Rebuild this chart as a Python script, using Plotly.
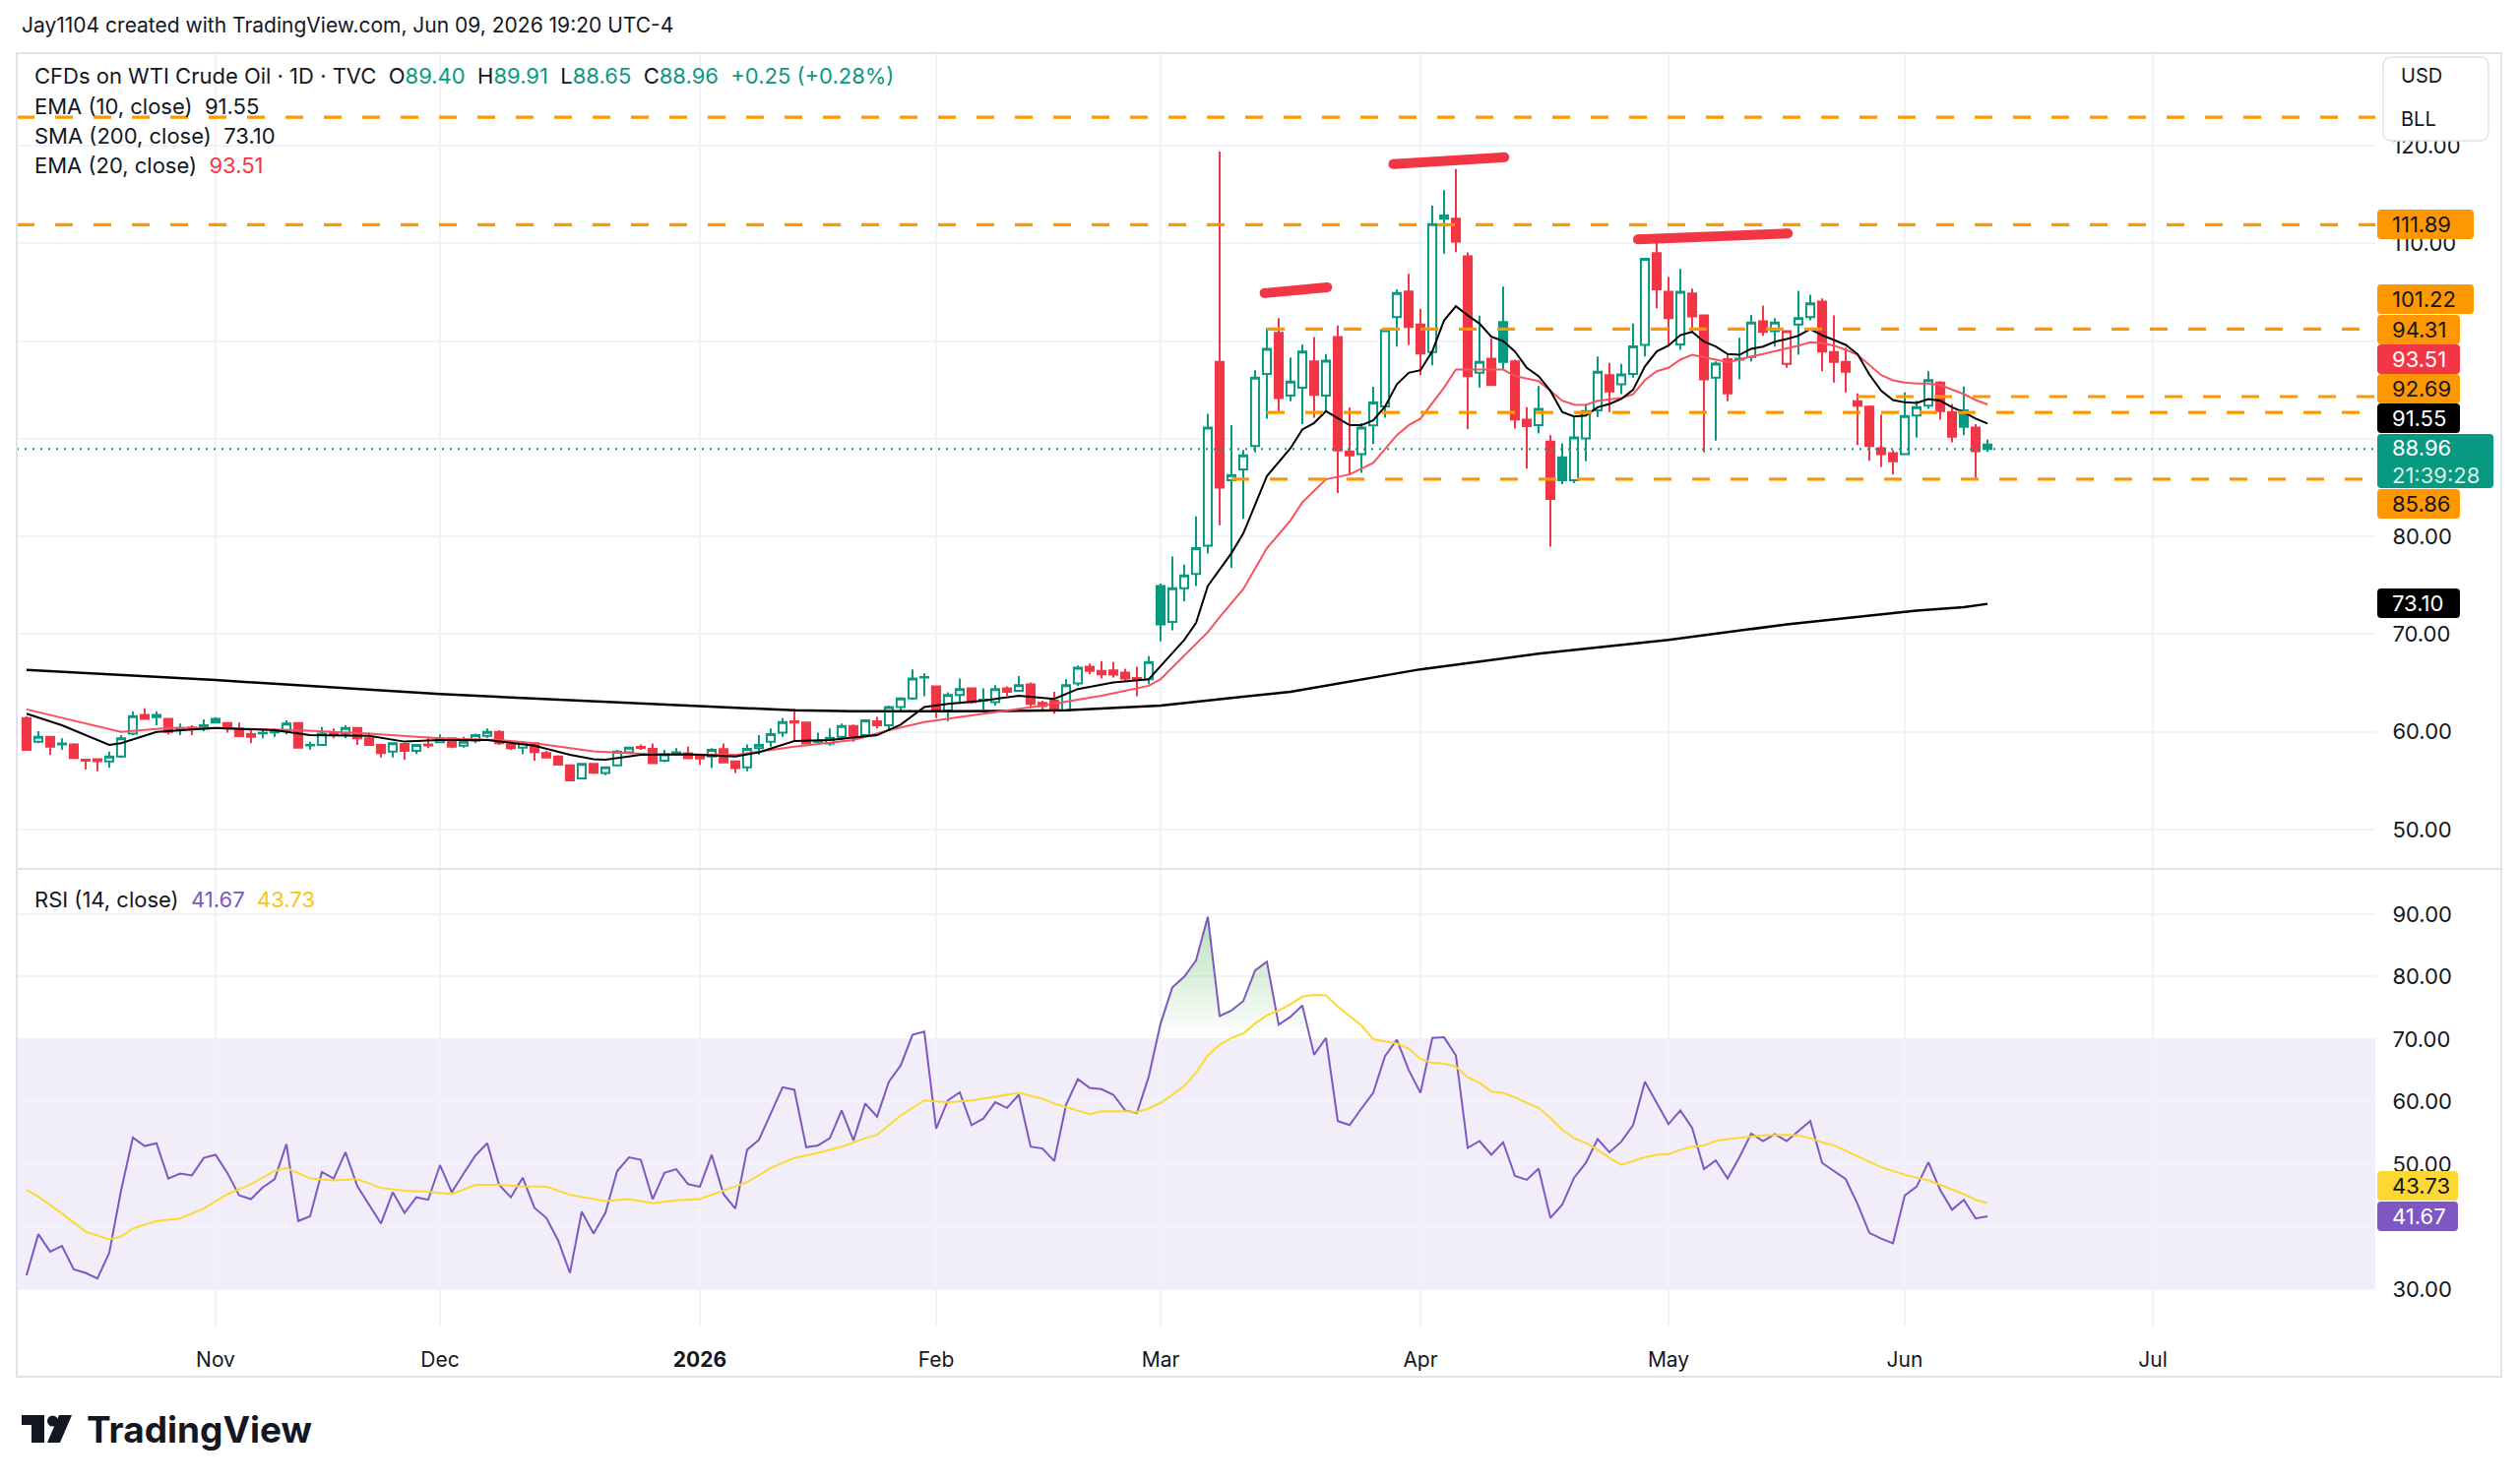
import plotly.graph_objects as go

W, H = 2560, 1507
GREEN = "#089981"
RED = "#F23645"
ORANGE = "#FF9800"
INK = "#131722"
PURPLE = "#7E57C2"
YELLOW = "#FDD835"
GRID = "#F0F3FA"
BORDER = "#E0E3EB"
FONT = "Inter, Noto Sans, sans-serif"

# one candle per trading day, Oct 10 2025 .. Jun 10 2026 (x = bar number)
opens = [61.40, 58.99, 59.50, 58.70, 58.72, 57.15, 57.20, 56.98, 57.48, 59.83,
         61.74, 61.74, 61.34, 60.30, 60.45, 60.34, 61.34, 60.91, 60.34, 59.78,
         59.85, 59.95, 60.17, 60.91, 58.60, 58.66, 59.86, 59.83, 60.40, 59.33,
         58.66, 57.99, 58.76, 58.05, 58.70, 58.93, 59.33, 58.59, 59.09, 59.60,
         60.00, 58.72, 58.39, 58.83, 57.82, 57.48, 56.58, 55.23, 56.71, 55.79,
         56.57, 57.91, 58.45, 58.25, 57.04, 57.85, 57.81, 57.50, 57.47, 58.22,
         56.97, 56.36, 58.32, 58.99, 59.93, 61.08, 60.94, 58.98, 58.82, 59.49,
         60.61, 59.66, 61.08, 60.67, 62.53, 63.43, 65.55, 64.65, 62.19, 63.77,
         64.44, 63.25, 63.03, 64.44, 64.21, 64.85, 62.96, 63.20, 62.19, 64.95,
         66.67, 66.23, 66.30, 66.06, 65.50, 65.39, 74.93, 71.24, 74.70, 76.17,
         79.06, 97.85, 85.74, 86.85, 89.26, 96.64, 100.84, 94.40, 95.23, 97.92,
         94.40, 100.40, 88.70, 88.42, 91.37, 93.30, 102.45, 105.07, 101.68, 98.86,
         112.85, 112.52, 108.66, 96.75, 98.20, 101.95, 97.92, 91.95, 91.38, 89.70,
         88.10, 85.74, 90.03, 92.89, 96.51, 95.57, 96.64, 99.60, 108.99, 105.03,
         99.66, 104.87, 102.62, 96.24, 98.15, 98.08, 98.36, 102.01, 101.01, 97.65,
         101.68, 102.45, 104.03, 98.86, 97.85, 93.83, 93.29, 89.03, 88.52, 88.42,
         92.38, 93.39, 95.74, 92.72, 92.89, 91.14, 89.40]
highs = [61.60, 60.07, 59.60, 59.33, 58.83, 57.20, 57.30, 57.99, 59.66, 62.08,
         62.42, 62.08, 61.40, 60.84, 60.67, 61.28, 61.50, 61.00, 60.94, 60.34,
         60.34, 60.34, 61.17, 61.00, 58.99, 60.50, 60.34, 60.67, 60.50, 59.93,
         58.72, 58.93, 58.83, 58.70, 59.50, 59.73, 59.40, 59.50, 59.83, 60.34,
         60.17, 58.83, 59.05, 58.93, 58.05, 57.60, 56.64, 56.81, 56.81, 56.46,
         58.15, 58.48, 58.72, 58.82, 58.15, 58.32, 58.48, 57.64, 58.32, 58.82,
         57.04, 58.72, 59.66, 60.34, 61.41, 62.36, 61.00, 59.93, 60.34, 60.84,
         60.74, 61.28, 61.52, 62.69, 63.54, 66.40, 65.99, 64.71, 64.04, 65.45,
         64.55, 64.44, 64.78, 64.65, 65.72, 65.05, 63.20, 64.11, 65.39, 66.80,
         67.00, 67.24, 67.14, 66.46, 66.67, 67.74, 75.17, 77.95, 77.11, 82.05,
         92.55, 119.40, 91.38, 88.86, 97.00, 101.30, 102.35, 98.32, 99.66, 100.40,
         98.66, 101.60, 93.20, 91.60, 95.33, 101.34, 105.30, 106.88, 103.30, 113.86,
         115.44, 117.60, 109.06, 102.60, 100.27, 105.57, 98.09, 93.22, 95.40, 90.37,
         89.53, 92.20, 93.56, 98.42, 97.75, 97.65, 101.78, 108.50, 110.91, 106.54,
         107.38, 105.37, 102.68, 97.92, 98.59, 100.34, 102.68, 103.62, 102.35, 101.10,
         105.13, 104.73, 104.36, 102.62, 99.33, 94.63, 93.40, 92.48, 88.86, 94.73,
         93.89, 96.91, 95.91, 93.56, 95.34, 91.48, 89.91]
lows = [58.10, 58.83, 57.65, 58.15, 57.25, 56.14, 55.97, 56.31, 57.32, 59.66,
        61.28, 60.67, 59.73, 59.66, 59.66, 60.07, 60.84, 59.93, 59.50, 58.83,
        59.33, 59.50, 59.73, 58.32, 58.15, 58.59, 59.33, 59.33, 58.66, 58.59,
        57.38, 57.38, 57.15, 57.72, 58.32, 58.83, 58.32, 58.39, 58.83, 59.40,
        58.66, 58.15, 57.72, 57.05, 57.32, 56.58, 54.97, 55.13, 55.70, 55.56,
        56.47, 57.81, 58.15, 56.70, 56.90, 57.60, 57.24, 56.63, 56.30, 56.80,
        55.79, 55.96, 57.64, 58.48, 59.49, 58.99, 58.72, 58.82, 58.59, 59.16,
        58.99, 59.60, 60.34, 60.17, 62.19, 63.30, 63.64, 61.41, 61.08, 62.86,
        62.86, 62.29, 62.69, 63.70, 64.11, 62.42, 62.09, 61.85, 62.09, 64.71,
        65.89, 65.45, 65.56, 65.22, 63.64, 64.88, 69.26, 70.40, 73.36, 74.93,
        78.26, 81.14, 76.78, 81.81, 88.60, 92.05, 92.82, 93.83, 91.48, 92.15,
        92.89, 84.43, 86.34, 86.50, 89.46, 92.15, 99.43, 99.60, 96.50, 97.50,
        108.93, 109.10, 91.00, 95.23, 95.40, 97.08, 91.04, 86.94, 90.54, 78.96,
        85.34, 85.44, 87.68, 92.21, 92.72, 94.56, 96.24, 98.42, 103.36, 99.43,
        99.10, 101.11, 88.59, 89.80, 93.83, 96.07, 97.92, 100.54, 99.43, 97.25,
        98.59, 102.11, 96.91, 95.74, 94.73, 89.36, 87.75, 87.11, 86.34, 88.36,
        90.10, 93.05, 91.95, 89.63, 90.37, 85.91, 88.65]
closes = [58.15, 59.50, 58.49, 58.80, 57.32, 57.05, 57.00, 57.48, 59.33, 61.61,
          61.34, 61.50, 60.00, 60.40, 60.30, 60.67, 60.94, 60.34, 59.56, 59.50,
          59.90, 60.00, 60.84, 58.39, 58.66, 59.83, 59.78, 60.40, 59.33, 58.66,
          57.82, 58.83, 58.05, 58.66, 58.60, 59.33, 58.49, 58.99, 59.66, 60.00,
          58.83, 58.32, 58.83, 57.92, 57.38, 56.64, 55.03, 56.71, 55.81, 56.36,
          57.98, 58.38, 58.35, 56.80, 57.71, 57.91, 57.31, 57.28, 58.15, 56.87,
          56.30, 58.25, 58.65, 59.76, 61.01, 60.95, 58.82, 59.06, 59.39, 60.61,
          59.49, 61.18, 60.67, 62.53, 63.43, 65.45, 65.62, 62.19, 63.77, 64.38,
          63.03, 63.30, 64.38, 64.11, 64.78, 62.86, 62.63, 62.19, 64.78, 66.57,
          66.23, 65.89, 65.85, 65.45, 65.40, 67.14, 71.00, 74.70, 76.00, 78.79,
          91.14, 85.00, 86.28, 88.30, 96.24, 99.20, 94.16, 95.84, 98.93, 94.50,
          97.99, 88.80, 88.30, 91.14, 93.70, 101.10, 104.90, 101.44, 98.72, 111.95,
          112.52, 110.17, 96.40, 97.85, 95.50, 97.85, 91.98, 91.28, 93.05, 83.83,
          85.74, 90.13, 92.82, 96.85, 94.83, 96.58, 99.46, 108.42, 105.30, 102.35,
          105.03, 102.52, 96.07, 97.68, 94.63, 98.20, 101.88, 100.94, 101.88, 101.01,
          102.35, 103.86, 98.93, 97.85, 96.85, 93.39, 89.26, 88.42, 87.68, 92.32,
          93.22, 96.00, 92.82, 90.20, 91.21, 88.71, 88.96]

month_ticks = [16, 35, 57, 77, 96, 118, 139, 159, 180]
month_labels = ["Nov", "Dec", "<b>2026</b>", "Feb", "Mar", "Apr", "May", "Jun", "Jul"]

# moving averages (bar number, value)
ema10_x = [0, 3, 7, 8, 11, 16, 21, 24, 29, 32, 35, 39, 43, 46, 48, 49, 52, 56, 60, 62,
           65, 68, 72, 74, 76, 78, 81, 84, 87, 89, 92, 95, 96, 98, 99, 100, 102, 103,
           105, 107, 108, 109, 110] + list(range(111, 167))
ema10_y = [61.85, 60.67, 58.66, 58.83, 60.0, 60.4, 60.17, 59.66, 59.6, 59.0, 59.16, 59.16,
           58.59, 57.65, 57.2, 57.14, 57.64, 57.71, 57.47, 57.91, 59.06, 59.16, 59.66, 60.74,
           62.53, 62.86, 63.2, 63.7, 63.37, 64.38, 65.05, 65.39, 66.73, 69.4, 71.14, 74.93,
           78.29, 80.3, 86.17, 89.03, 90.94, 91.61, 92.82,
           92.1, 91.38, 91.38, 91.88, 93.29, 95.57, 96.74, 97.01, 98.93, 102.11,
           103.56, 102.62, 101.78, 100.44, 100.0, 98.93, 97.25, 96.41, 94.9, 92.72,
           92.28, 92.38, 93.22, 93.56, 94.06, 95.0, 97.4, 98.93, 99.53, 100.6,
           100.94, 99.93, 99.43, 98.66, 98.59, 99.2, 99.43, 99.93, 100.2, 100.54,
           101.21, 100.6, 100.1, 99.6, 98.66, 96.58, 94.9, 93.96, 93.72, 93.66,
           94.06, 93.89, 93.22, 92.72, 92.05, 91.55]
ema20_x = [0, 8, 12, 16, 23, 29, 35, 40, 43, 46, 48, 53, 60, 65, 70, 73, 76, 81, 86, 91,
           95, 96, 100, 101, 103, 105, 107, 108, 110, 112, 114, 116, 117, 118, 120, 121,
           125, 126, 128, 130, 131, 132, 133, 135, 136, 137] + list(range(138, 167))
ema20_y = [62.3, 60.0, 60.4, 60.4, 60.17, 59.83, 59.33, 59.16, 58.83, 58.32, 58.0, 57.71,
           57.64, 58.48, 59.16, 60.17, 61.01, 61.85, 62.69, 63.7, 64.71, 65.39, 70.2, 71.74,
           74.6, 78.8, 81.64, 83.49, 85.84, 86.34, 87.52, 90.37, 91.38, 92.05, 95.23, 97.08,
           97.08, 96.41, 95.9, 93.89, 93.49, 93.46, 93.89, 94.16, 94.56, 96.0,
           96.91, 97.25, 98.09, 98.59, 98.32, 98.09, 97.85, 98.09, 98.42, 98.66,
           98.93, 99.2, 99.53, 99.87, 99.77, 99.53, 99.1, 98.59, 97.58, 96.51,
           95.97, 95.74, 95.64, 95.64, 95.5, 95.07, 94.56, 93.96, 93.51]
sma200_x = [0, 16, 35, 49, 57, 65, 70, 78, 88, 96, 107, 118, 128, 139, 149, 160, 164, 166]
sma200_y = [66.35, 65.3, 63.86, 63.1, 62.69, 62.2, 62.1, 62.1, 62.2, 62.7, 64.1, 66.4,
            68.0, 69.4, 71.0, 72.4, 72.75, 73.1]

# RSI(14), one value per bar
rsi = [32.2, 38.8, 36.0, 36.9, 33.15, 32.6, 31.7, 35.8, 45.75, 54.25,
       52.9, 53.35, 47.7, 48.5, 48.2, 51.0, 51.5, 48.6, 45.0, 44.4,
       46.3, 47.6, 53.2, 40.9, 41.65, 48.75, 47.7, 51.9, 46.5, 43.55,
       40.5, 45.5, 42.2, 44.7, 44.3, 49.85, 45.5, 48.5, 51.4, 53.35,
       46.7, 44.7, 47.85, 43.0, 41.4, 37.8, 32.6, 42.4, 38.9, 42.2,
       48.9, 51.1, 50.7, 44.4, 48.6, 49.2, 46.8, 46.4, 51.5, 45.2,
       42.9, 52.3, 53.9, 58.1, 62.3, 61.9, 52.7, 53.0, 54.15, 58.6,
       53.8, 59.7, 57.6, 63.2, 65.8, 70.7, 71.2, 55.7, 60.2, 61.5,
       56.25, 57.3, 59.9, 59.0, 61.1, 52.8, 52.5, 50.5, 59.5, 63.6,
       62.2, 62.0, 61.1, 58.6, 58.2, 64.0, 72.5, 78.3, 80.0, 82.6,
       89.6, 73.7, 74.6, 76.1, 81.0, 82.4, 72.3, 73.6, 75.4, 67.5,
       70.2, 56.9, 56.25, 58.9, 61.4, 67.3, 69.9, 65.1, 61.4, 70.2,
       70.3, 67.4, 52.6, 53.7, 51.5, 53.5, 48.1, 47.5, 49.3, 41.4,
       43.5, 47.8, 50.2, 54.0, 51.9, 53.6, 56.25, 63.2, 59.8, 56.4,
       58.6, 55.8, 49.2, 50.6, 47.7, 51.1, 54.9, 53.7, 54.8, 53.7,
       55.3, 56.9, 50.2, 48.9, 47.6, 43.65, 39.0, 38.1, 37.35, 45.0,
       46.4, 50.3, 45.85, 42.7, 44.3, 41.3, 41.67]
rsi_ma_x = [0, 1, 3, 5, 7, 8, 9, 11, 13, 15, 17, 19, 21, 22, 24, 26, 28, 30, 32, 34, 36,
            38, 40, 42, 44, 46, 49, 51, 53, 55, 57, 59, 61, 63, 65, 67, 69, 71, 72, 74,
            76, 78, 80, 82, 84, 86, 87, 90, 91, 93, 94, 95] + list(range(96, 167))
rsi_ma_y = [45.9, 44.8, 42.1, 39.2, 38.0, 38.4, 39.7, 40.9, 41.3, 42.9, 45.2, 46.8, 48.9,
            49.4, 47.7, 47.4, 47.6, 46.2, 45.75, 45.6, 45.2, 46.7, 46.7, 46.4, 46.4, 45.1,
            44.1, 44.4, 43.75, 44.2, 44.4, 45.75, 47.1, 49.4, 51.0, 51.8, 52.8, 54.15, 54.7,
            57.8, 60.2, 59.9, 60.2, 60.8, 61.4, 60.45, 59.7, 58.0, 58.45, 58.45, 58.35, 58.9,
            59.8, 61.1, 62.5, 64.65, 67.4, 69.1, 70.2, 70.9, 72.5, 73.8,
            74.6, 75.6, 76.8, 77.1, 77.0, 75.2, 73.7, 72.2, 70.0, 69.6,
            69.3, 68.5, 66.85, 66.2, 66.1, 65.6, 63.9, 63.0, 61.6, 61.4,
            60.7, 59.8, 59.0, 57.4, 55.5, 54.15, 53.4, 52.3, 51.0, 49.9,
            50.5, 51.1, 51.5, 51.6, 52.3, 52.8, 53.0, 53.7, 54.0, 54.15,
            54.4, 54.6, 54.7, 54.7, 54.6, 54.15, 53.5, 53.0, 52.15, 51.25,
            50.4, 49.5, 48.9, 48.3, 47.85, 47.4, 46.7, 46.0, 45.2, 44.3, 43.73]

# user drawings: horizontal rays (price, first bar; None = from the left edge)
ray_prices = [122.9, 111.89, 101.22, 94.31, 92.69, 85.86]
ray_starts = [None, None, 105, 155, 105, 102]
# red marker strokes over the highs (bar, price pairs)
mark_x = [[104.8, 110.1], [115.7, 125.1], [136.4, 149.1]]
mark_y = [[104.9, 105.5], [118.1, 118.8], [110.4, 111.0]]

# axis tick values; labels hidden under the stacked price tags stay blank
price_ticks = [50, 60, 70, 80, 90, 100, 110, 120]
price_ticktext = ["50.00", "60.00", "70.00", "80.00", "", "", "110.00", "120.00"]
rsi_ticks = [30, 40, 50, 60, 70, 80, 90]
rsi_ticktext = ["30.00", "", "50.00", "60.00", "70.00", "80.00", "90.00"]

# ---- screenshot geometry (pixels) ----
L, R = 17, 2413
P_TOP, P_BOT, R_BOT = 54, 883, 1349
X_RANGE = [-0.83, 198.83]
P_RANGE = [45.97, 129.46]
RSI_RANGE = [23.86, 97.24]


def fx(px):
    return px / W


def fy(py):
    return 1 - py / H


n = len(closes)
idx = list(range(n))
up = [i for i in idx if i > 0 and closes[i] >= closes[i - 1]]
dn = [i for i in idx if i not in up]

fig = go.Figure()


def candles(sel, col):
    return go.Candlestick(
        x=sel, open=[opens[i] for i in sel], high=[highs[i] for i in sel],
        low=[lows[i] for i in sel], close=[closes[i] for i in sel],
        increasing=dict(line=dict(color=col, width=2), fillcolor="white"),
        decreasing=dict(line=dict(color=col, width=2), fillcolor=col),
        whiskerwidth=0, hoverinfo="skip", xaxis="x", yaxis="y")


fig.add_trace(candles(up, GREEN))
fig.add_trace(candles(dn, RED))

fig.add_trace(go.Scatter(x=sma200_x, y=sma200_y, mode="lines", line=dict(color="black", width=2.5),
                         hoverinfo="skip"))
fig.add_trace(go.Scatter(x=ema20_x, y=ema20_y, mode="lines", line=dict(color="#F7525F", width=2),
                         hoverinfo="skip"))
fig.add_trace(go.Scatter(x=ema10_x, y=ema10_y, mode="lines", line=dict(color="black", width=2),
                         hoverinfo="skip"))

# last price dotted line
fig.add_trace(go.Scatter(x=[X_RANGE[0], X_RANGE[1]], y=[closes[-1]] * 2, mode="lines",
                         line=dict(color=GREEN, width=2, dash="2px,6px"), hoverinfo="skip"))

for p, s in zip(ray_prices, ray_starts):
    fig.add_trace(go.Scatter(x=[X_RANGE[0] if s is None else s, X_RANGE[1]], y=[p, p], mode="lines",
                             line=dict(color=ORANGE, width=3.2, dash="18px,21px"), hoverinfo="skip"))

for xs, ys in zip(mark_x, mark_y):
    fig.add_trace(go.Scatter(x=xs, y=ys, mode="lines+markers", line=dict(color=RED, width=10),
                             marker=dict(color=RED, size=10), hoverinfo="skip"))

# RSI pane
fig.add_trace(go.Scatter(x=idx, y=[70] * n, mode="lines", line=dict(width=0), xaxis="x2", yaxis="y2",
                         hoverinfo="skip"))
fig.add_trace(go.Scatter(x=idx, y=rsi, mode="lines", line=dict(color=PURPLE, width=2),
                         fill="tonexty",
                         fillgradient=dict(type="vertical", start=70, stop=100,
                                           colorscale=[[0, "rgba(76,175,80,0)"],
                                                       [1, "rgba(76,175,80,0.6)"]]),
                         xaxis="x2", yaxis="y2", hoverinfo="skip"))
fig.add_trace(go.Scatter(x=rsi_ma_x, y=rsi_ma_y, mode="lines", line=dict(color=YELLOW, width=2),
                         xaxis="x2", yaxis="y2", hoverinfo="skip"))

shapes = []
# overbought / oversold band
shapes.append(dict(type="rect", xref="paper", yref="y2", x0=fx(L), x1=fx(R), y0=30, y1=70,
                   fillcolor="rgba(126,87,194,0.1)", line=dict(width=0), layer="below"))
for lvl, col in [(70, "#787B86"), (50, "rgba(120,123,134,0.55)"), (30, "#787B86")]:
    shapes.append(dict(type="line", xref="paper", yref="y2", x0=fx(L), x1=fx(R), y0=lvl, y1=lvl,
                       line=dict(color=col, width=2, dash="9px,7px"), layer="below"))
# frame and pane separator
shapes.append(dict(type="rect", xref="paper", yref="paper", x0=fx(17), x1=fx(2541), y0=fy(1399),
                   y1=fy(54), line=dict(color=BORDER, width=2)))
shapes.append(dict(type="line", xref="paper", yref="paper", x0=fx(17), x1=fx(2541), y0=fy(P_BOT),
                   y1=fy(P_BOT), line=dict(color=BORDER, width=2)))


def rbox(x0, y0, x1, y1, r):
    pts = [f"M {fx(x0 + r)},{fy(y0)}", f"L {fx(x1 - r)},{fy(y0)}", f"Q {fx(x1)},{fy(y0)} {fx(x1)},{fy(y0 + r)}",
           f"L {fx(x1)},{fy(y1 - r)}", f"Q {fx(x1)},{fy(y1)} {fx(x1 - r)},{fy(y1)}",
           f"L {fx(x0 + r)},{fy(y1)}", f"Q {fx(x0)},{fy(y1)} {fx(x0)},{fy(y1 - r)}",
           f"L {fx(x0)},{fy(y0 + r)}", f"Q {fx(x0)},{fy(y0)} {fx(x0 + r)},{fy(y0)}", "Z"]
    return " ".join(pts)


# currency box
shapes.append(dict(type="path", xref="paper", yref="paper", path=rbox(2421, 58, 2528, 143, 9),
                   fillcolor="white", line=dict(color=BORDER, width=1.5), layer="above"))

annotations = []


def text(x, y, s, size=22, color=INK, **kw):
    annotations.append(dict(x=fx(x), y=fy(y), xref="paper", yref="paper", text=s, showarrow=False,
                            xanchor=kw.pop("xanchor", "left"), yanchor="middle",
                            font=dict(family=FONT, size=size, color=color, **kw)))


def tag(value, cy, right, bg, fg):
    shapes.append(dict(type="path", xref="paper", yref="paper", path=rbox(2415, cy - 15, right, cy + 15, 4),
                       fillcolor=bg, line=dict(width=0), layer="above"))
    text(2428, cy, f"{value:.2f}", 22, fg)


# price-scale tags (stacked the way the screenshot shows them)
tag(ray_prices[1], 228, 2513, ORANGE, INK)
tag(ray_prices[2], 304, 2513, ORANGE, INK)
tag(ray_prices[3], 335, 2499, ORANGE, INK)
tag(ema20_y[-1], 365, 2499, RED, "white")
tag(ray_prices[4], 395, 2499, ORANGE, INK)
tag(ema10_y[-1], 425, 2499, "black", "white")
shapes.append(dict(type="path", xref="paper", yref="paper", path=rbox(2415, 441, 2533, 496, 4),
                   fillcolor=GREEN, line=dict(width=0), layer="above"))
text(2428, 455, f"{closes[-1]:.2f}", 22, "white")
text(2428, 483, "21:39:28", 22, "rgba(255,255,255,0.85)")
tag(ray_prices[5], 512, 2499, ORANGE, INK)
tag(sma200_y[-1], 613, 2499, "black", "white")
tag(rsi_ma_y[-1], 1205, 2497, YELLOW, INK)
tag(rsi[-1], 1236, 2497, PURPLE, "white")

text(2437, 77, "USD", 20)
text(2437, 121, "BLL", 20)

# header and legends
text(20, 26, "Jay1104 created with TradingView.com, Jun 09, 2026 19:20 UTC-4", 21)
chg = closes[-1] - closes[-2]
sp = "\u00a0\u00a0"


def g(v):
    return f"<span style='color:{GREEN}'>{v}</span>"


text(33, 77, "CFDs on WTI Crude Oil · 1D · TVC" + sp + "O" + g(f"{opens[-1]:.2f}") + sp + "H" +
     g(f"{highs[-1]:.2f}") + sp + "L" + g(f"{lows[-1]:.2f}") + sp + "C" + g(f"{closes[-1]:.2f}") + sp +
     g(f"{chg:+.2f} ({chg / closes[-2] * 100:+.2f}%)"), 22)
text(33, 108, "EMA (10, close)" + sp + f"{ema10_y[-1]:.2f}", 22)
text(33, 138, "SMA (200, close)" + sp + f"{sma200_y[-1]:.2f}", 22)
text(33, 168, "EMA (20, close)" + sp + f"<span style='color:{RED}'>{ema20_y[-1]:.2f}</span>", 22)
text(33, 914, "RSI (14, close)" + sp + f"<span style='color:{PURPLE}'>{rsi[-1]:.2f}</span>" + sp +
     f"<span style='color:#F5C518'>{rsi_ma_y[-1]:.2f}</span>", 22)

# TradingView logo
shapes.append(dict(type="path", xref="paper", yref="paper", fillcolor=INK, line=dict(width=0),
                   path=f"M {fx(22)},{fy(1438)} L {fx(45)},{fy(1438)} L {fx(45)},{fy(1466)} "
                        f"L {fx(32)},{fy(1466)} L {fx(32)},{fy(1448)} L {fx(22)},{fy(1448)} Z"))
shapes.append(dict(type="circle", xref="paper", yref="paper", fillcolor=INK, line=dict(width=0),
                   x0=fx(48), x1=fx(59), y0=fy(1449.5), y1=fy(1438.5)))
shapes.append(dict(type="path", xref="paper", yref="paper", fillcolor=INK, line=dict(width=0),
                   path=f"M {fx(60)},{fy(1438)} L {fx(73)},{fy(1438)} L {fx(61)},{fy(1466)} "
                        f"L {fx(48)},{fy(1466)} Z"))
annotations.append(dict(x=fx(86), y=fy(1452), xref="paper", yref="paper", text="<b>TradingView</b>",
                        showarrow=False, xanchor="left", yanchor="middle",
                        font=dict(family=FONT, size=37, color=INK)))

axis_font = dict(family=FONT, size=21, color=INK)
fig.update_layout(
    width=W, height=H, margin=dict(l=0, r=0, t=0, b=0),
    paper_bgcolor="white", plot_bgcolor="rgba(0,0,0,0)", showlegend=False,
    boxgap=0.2, boxgroupgap=0.15,
    xaxis=dict(domain=[fx(L), fx(R)], range=X_RANGE, anchor="y", tickvals=month_ticks,
               showticklabels=False, showgrid=True, gridcolor=GRID, gridwidth=2, zeroline=False,
               rangeslider=dict(visible=False), fixedrange=True),
    yaxis=dict(domain=[fy(P_BOT), fy(P_TOP)], range=P_RANGE, anchor="x", side="right",
               tickvals=price_ticks, ticktext=price_ticktext, ticks="outside", ticklen=12,
               tickcolor="rgba(0,0,0,0)", tickfont=dict(family=FONT, size=22, color=INK),
               showgrid=True, gridcolor=GRID, gridwidth=2, zeroline=False, fixedrange=True),
    xaxis2=dict(domain=[fx(L), fx(R)], range=X_RANGE, anchor="y2", matches="x", tickvals=month_ticks,
                ticktext=month_labels, ticks="outside", ticklen=14, tickcolor="rgba(0,0,0,0)",
                tickfont=axis_font, showgrid=True, gridcolor=GRID, gridwidth=2, zeroline=False,
                fixedrange=True),
    yaxis2=dict(domain=[fy(R_BOT), fy(P_BOT)], range=RSI_RANGE, anchor="x2", side="right",
                tickvals=rsi_ticks, ticktext=rsi_ticktext, ticks="outside", ticklen=12,
                tickcolor="rgba(0,0,0,0)", tickfont=dict(family=FONT, size=22, color=INK),
                showgrid=True, gridcolor=GRID, gridwidth=2, zeroline=False, fixedrange=True),
    shapes=shapes, annotations=annotations,
)

fig.write_html("out.html", config={"displayModeBar": False},
               post_script="document.body.style.margin='0px';")
